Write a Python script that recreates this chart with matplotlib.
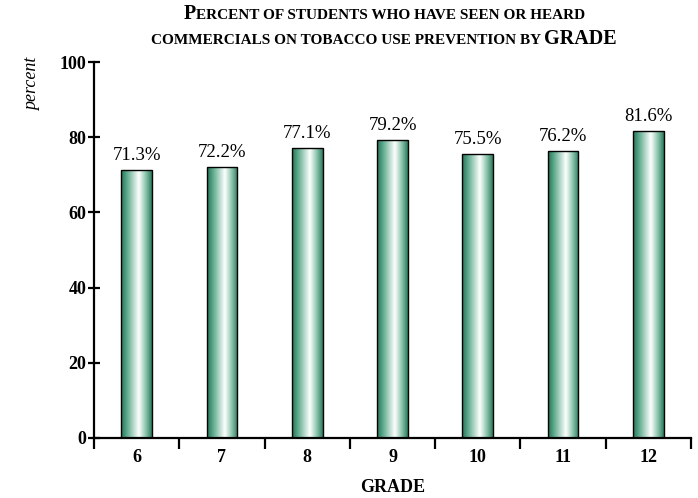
import numpy as np
import matplotlib
matplotlib.use("Agg")
import matplotlib.pyplot as plt
from matplotlib.colors import LinearSegmentedColormap
from matplotlib.patches import Rectangle

grades = ["6", "7", "8", "9", "10", "11", "12"]
percent_seen = [71.3, 72.2, 77.1, 79.2, 75.5, 76.2, 81.6]
yticks = [0, 20, 40, 60, 80, 100]

plt.rcParams["font.family"] = ["Liberation Serif", "DejaVu Serif"]

fig = plt.figure(figsize=(6.98, 4.98), dpi=100)
ax = fig.add_axes([0.1347, 0.1205, 0.8553, 0.755])

# cylinder-style shading across each bar
shade = LinearSegmentedColormap.from_list(
    "shade", [(0.0, "#1f7557"), (0.2, "#5fab8e"), (0.58, "#ffffff"),
              (0.8, "#8cc5ad"), (1.0, "#267d5f")])
grad = np.linspace(0, 1, 256).reshape(1, -1)

width = 0.36
x = np.arange(len(grades))
for xi, val in zip(x, percent_seen):
    left = xi - width / 2
    im = ax.imshow(grad, cmap=shade, aspect="auto", interpolation="bicubic",
                   extent=[left, left + width, 0, val], zorder=2)
    rect = Rectangle((left, 0), width, val, facecolor="none",
                     edgecolor="black", linewidth=1.0, zorder=3)
    ax.add_patch(rect)
    im.set_clip_path(rect)
    ax.text(xi, val + 1.6, f"{val:.1f}%", ha="center", va="bottom",
            fontsize=13.5)

ax.set_xlim(-0.5, len(grades) - 0.5)
ax.set_ylim(0, 100)

for side in ["top", "right"]:
    ax.spines[side].set_visible(False)
for side in ["left", "bottom"]:
    ax.spines[side].set_linewidth(1.6)

ax.set_yticks(yticks)
ax.set_yticklabels([str(t) for t in yticks], fontsize=13, fontweight="bold")
ax.tick_params(axis="y", direction="inout", length=9, width=1.6, pad=1)

# grade labels sit between the boundary ticks
ax.set_xticks(np.arange(len(grades) + 1) - 0.5)
ax.set_xticklabels([])
ax.set_xticks(x, minor=True)
ax.set_xticklabels(grades, minor=True, fontsize=13, fontweight="bold")
ax.tick_params(axis="x", which="major", direction="out", length=8, width=1.6)
ax.tick_params(axis="x", which="minor", length=0, pad=8)

ax.set_xlabel("GRADE", fontsize=13, fontweight="bold", labelpad=9)
fig.text(0.046, 0.83, "percent", rotation=90, ha="center", va="center",
         fontsize=13, style="italic")

# small-caps title built from pieces of two sizes
title_lines = [
    [("P", 14.5, "bold"), ("ERCENT OF STUDENTS WHO HAVE SEEN OR HEARD", 11, "bold")],
    [("COMMERCIALS ON TOBACCO USE PREVENTION BY ", 11, "bold"), ("GRADE", 14.5, "bold")],
]
title_y = [1 - 19 / 498, 1 - 44 / 498]
center_x = 384 / 698

renderer = fig.canvas.get_renderer()
for pieces, ty in zip(title_lines, title_y):
    texts = [fig.text(0, ty, s, fontsize=fs, fontweight=fw, ha="left",
                      va="baseline") for s, fs, fw in pieces]
    widths = [t.get_window_extent(renderer).width / fig.bbox.width for t in texts]
    xpos = center_x - sum(widths) / 2
    for t, w in zip(texts, widths):
        t.set_x(xpos)
        xpos += w

fig.savefig("out.png", dpi=100)
